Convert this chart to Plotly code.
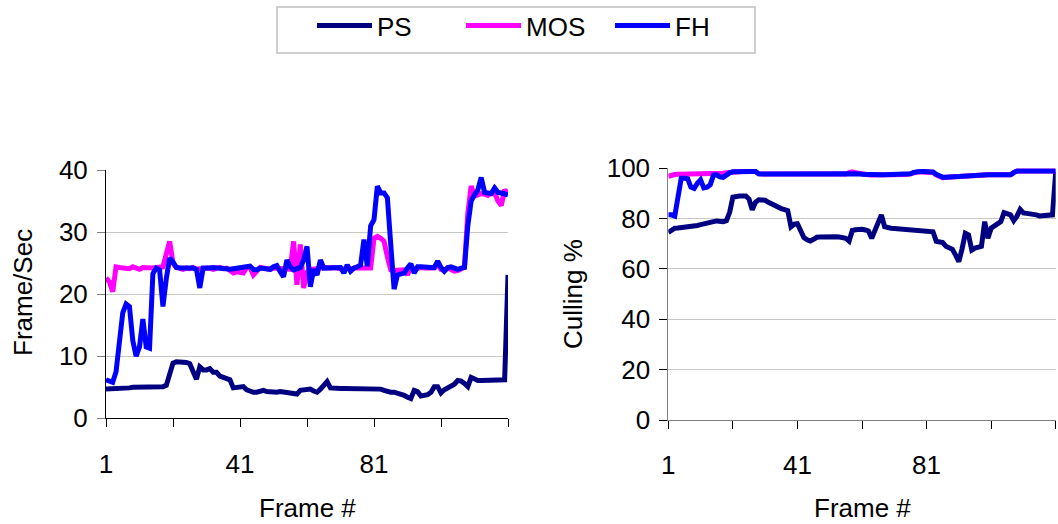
import plotly.graph_objects as go

W, H = 1058, 524

frames = list(range(1, 122))

# Frame rate (frames per second) per technique
ps_fps = [
    4.7, 4.7, 4.7, 4.8, 4.8, 4.8, 4.8, 4.9, 5.0, 5.0,
    5.0, 5.1, 5.1, 5.2, 5.1, 5.1, 5.1, 5.1, 5.3, 7.5,
    8.9, 9.1, 9.1, 9.0, 9.0, 8.8, 7.6, 6.3, 8.3, 7.8,
    7.8, 8.0, 7.4, 7.4, 6.8, 6.6, 6.3, 6.2, 4.9, 4.9,
    5.0, 5.1, 4.6, 4.3, 4.2, 4.2, 4.3, 4.5, 4.3, 4.2,
    4.3, 4.2, 4.3, 4.2, 4.3, 4.2, 4.0, 3.9, 4.5, 4.6,
    4.6, 4.7, 4.4, 4.2, 4.7, 5.2, 5.9, 4.9, 4.8, 4.8,
    4.8, 4.8, 4.8, 4.8, 4.8, 4.8, 4.8, 4.7, 4.8, 4.8,
    4.7, 4.8, 4.7, 4.5, 4.3, 4.2, 4.2, 4.1, 4.0, 3.7,
    3.4, 3.2, 4.5, 4.3, 3.6, 3.7, 3.8, 4.2, 5.1, 5.1,
    4.1, 4.6, 4.9, 5.1, 5.5, 6.1, 6.0, 5.6, 5.1, 6.6,
    6.3, 6.1, 6.1, 6.1, 6.0, 6.0, 6.2, 6.1, 6.2, 6.2, 23.1,
]
mos_fps = [
    22.6, 22.0, 20.4, 24.4, 24.3, 24.2, 24.0, 24.1, 24.4, 24.2,
    24.0, 24.3, 24.2, 24.2, 24.2, 24.3, 24.3, 24.4, 26.5, 28.5,
    25.0, 24.3, 24.2, 24.0, 24.2, 24.1, 24.3, 24.0, 24.1, 24.2,
    24.3, 24.2, 24.0, 24.2, 24.3, 24.1, 24.2, 23.8, 23.4, 23.6,
    23.6, 23.4, 24.3, 24.3, 23.1, 23.8, 24.3, 24.2, 24.0, 24.0,
    24.2, 24.2, 24.2, 24.2, 24.2, 24.0, 28.5, 21.5, 28.0, 21.0,
    23.5, 24.0, 24.0, 24.2, 24.2, 24.3, 24.2, 24.2, 24.3, 24.2,
    24.2, 24.0, 24.3, 24.0, 24.2, 24.2, 24.2, 24.0, 24.2, 24.2,
    29.0, 29.3, 29.0, 28.5, 26.0, 23.9, 23.8, 23.9, 23.9, 23.9,
    23.1, 24.4, 23.9, 24.2, 24.3, 24.2, 24.3, 24.2, 24.2, 24.8,
    24.0, 23.8, 24.2, 24.0, 23.7, 23.8, 24.1, 24.3, 33.0, 37.4,
    35.8, 36.0, 36.2, 36.1, 35.9, 36.3, 36.3, 35.0, 34.3, 36.8, 36.2,
]
fh_fps = [
    6.2, 6.0, 5.8, 7.5, 12.5, 17.0, 18.4, 18.0, 12.5, 10.0,
    11.5, 16.0, 11.5, 11.3, 23.3, 24.2, 23.9, 18.0, 22.5, 25.8,
    25.2, 24.3, 24.2, 24.2, 24.4, 24.2, 24.2, 24.0, 21.0, 24.2,
    24.1, 24.2, 24.3, 24.2, 24.3, 24.2, 24.1, 24.0, 24.1, 24.2,
    24.2, 24.3, 24.4, 24.5, 24.0, 23.9, 24.2, 24.2, 24.0, 24.0,
    24.4, 24.6, 23.6, 22.8, 25.5, 24.4, 23.9, 24.2, 24.3, 25.5,
    27.7, 21.2, 24.0, 23.1, 25.5, 24.2, 24.2, 24.3, 24.2, 24.4,
    24.3, 23.4, 24.7, 23.7, 24.2, 24.4, 24.7, 28.8, 24.5, 31.0,
    32.0, 37.4, 36.3, 36.3, 35.5, 28.0, 20.8, 23.1, 23.2, 23.4,
    24.2, 24.9, 23.4, 24.4, 24.4, 24.3, 24.4, 24.3, 24.3, 25.3,
    24.3, 23.7, 24.3, 24.4, 24.2, 24.0, 24.2, 24.3, 31.0, 35.0,
    36.0, 36.8, 38.8, 36.4, 36.3, 36.2, 37.1, 36.4, 36.3, 36.1, 36.0,
]

# Culling percentage per technique
ps_cull = [
    74.5, 75.5, 76.2, 76.3, 76.4, 76.6, 77.0, 77.1, 77.1, 77.3,
    77.6, 77.8, 78.3, 78.4, 78.8, 79.1, 78.9, 78.8, 79.2, 82.5,
    88.5, 89.0, 89.0, 89.0, 89.0, 87.8, 83.5, 86.5, 87.5, 87.4,
    87.3, 86.5, 85.8, 85.3, 84.8, 84.0, 83.6, 83.2, 76.8, 77.8,
    78.0, 74.8, 72.5, 71.6, 71.1, 71.8, 72.6, 72.7, 72.8, 72.8,
    72.8, 72.8, 72.8, 72.7, 72.5, 72.2, 71.1, 75.3, 75.6, 75.8,
    75.8, 75.5, 75.1, 72.2, 75.5, 78.0, 81.5, 76.8, 76.3, 76.2,
    76.1, 76.0, 76.0, 75.9, 75.8, 75.6, 75.6, 75.5, 75.4, 75.3,
    75.2, 75.0, 74.8, 71.0, 70.8, 70.5, 69.0, 68.5, 67.8, 65.5,
    62.9, 68.0, 74.2, 73.5, 67.5, 68.3, 68.6, 69.0, 78.8, 72.2,
    76.2, 77.0, 77.5, 78.8, 82.4, 82.0, 81.5, 79.2, 81.0, 83.7,
    82.3, 82.1, 82.0, 81.9, 81.5, 81.1, 81.3, 81.5, 81.5, 81.5, 98.5,
]
mos_cull = [
    96.8, 97.3, 97.5, 97.6, 97.6, 97.6, 97.6, 97.6, 97.7, 97.7,
    97.7, 97.7, 97.7, 97.8, 97.8, 97.8, 97.9, 98.0, 98.2, 98.4,
    98.6, 98.7, 98.7, 98.7, 98.7, 98.7, 98.7, 98.7, 97.8, 97.7,
    97.7, 97.7, 97.7, 97.7, 97.7, 97.7, 97.7, 97.7, 97.7, 97.7,
    97.7, 97.7, 97.7, 97.7, 97.7, 97.7, 97.7, 97.7, 97.7, 97.7,
    97.7, 97.7, 97.7, 97.7, 97.7, 97.7, 98.3, 98.6, 98.2, 97.9,
    97.6, 97.5, 97.4, 97.3, 97.4, 97.4, 97.4, 97.3, 97.4, 97.4,
    97.4, 97.3, 97.4, 97.4, 97.5, 97.8, 98.3, 98.5, 98.5, 98.5,
    98.5, 98.5, 98.3, 97.3, 96.6, 96.3, 96.4, 96.5, 96.6, 96.7,
    96.8, 96.9, 96.9, 97.2, 97.4, 97.4, 97.4, 97.4, 97.4, 97.4,
    97.4, 97.4, 97.4, 97.4, 97.4, 97.4, 97.4, 98.3, 98.9, 98.9,
    98.9, 98.9, 98.9, 98.9, 98.9, 98.9, 98.9, 98.9, 98.9, 98.9, 98.9,
]
fh_cull = [
    81.5, 81.5, 81.0, 88.0, 96.0, 96.0, 95.8, 92.5, 92.0, 94.0,
    95.4, 92.2, 92.5, 93.5, 97.3, 97.4, 96.6, 96.4, 97.5, 98.2,
    98.6, 98.7, 98.7, 98.7, 98.7, 98.7, 98.7, 98.7, 97.8, 97.7,
    97.7, 97.7, 97.7, 97.7, 97.7, 97.7, 97.7, 97.7, 97.7, 97.7,
    97.7, 97.7, 97.7, 97.7, 97.7, 97.7, 97.7, 97.7, 97.7, 97.7,
    97.7, 97.7, 97.7, 97.7, 97.7, 97.7, 97.9, 98.1, 98.0, 97.8,
    97.6, 97.5, 97.4, 97.3, 97.4, 97.4, 97.4, 97.4, 97.4, 97.4,
    97.4, 97.4, 97.4, 97.4, 97.5, 97.8, 98.4, 98.7, 98.7, 98.7,
    98.7, 98.7, 98.5, 97.6, 96.8, 96.4, 96.4, 96.5, 96.6, 96.7,
    96.8, 96.9, 97.0, 97.2, 97.4, 97.4, 97.4, 97.4, 97.4, 97.4,
    97.4, 97.4, 97.4, 97.4, 97.4, 97.4, 97.4, 98.3, 98.9, 98.9,
    98.9, 98.9, 98.9, 98.9, 98.9, 98.9, 98.9, 98.9, 98.9, 98.9, 98.9,
]

x_tickvals = [1, 21, 41, 61, 81, 101, 121]
x_ticktext = ["1", "", "41", "", "81", "", ""]
fps_ticks = [0, 10, 20, 30, 40]
cull_ticks = [0, 20, 40, 60, 80, 100]

series_names = ["PS", "MOS", "FH"]
series_colors = ["#000080", "#FF00FF", "#0000FF"]
LINE_W = 5

FONT = "Arial, 'Liberation Sans', sans-serif"
FS = 26


def px_x(p):
    return p / W


def px_y(p):
    return 1 - p / H


fig = go.Figure()

for name, color, ys in zip(series_names, series_colors, [ps_fps, mos_fps, fh_fps]):
    fig.add_trace(go.Scatter(
        x=frames, y=ys, mode="lines", name=name,
        line=dict(color=color, width=LINE_W),
        xaxis="x", yaxis="y", legendgroup=name,
    ))

for name, color, ys in zip(series_names, series_colors, [ps_cull, mos_cull, fh_cull]):
    fig.add_trace(go.Scatter(
        x=frames, y=ys, mode="lines", name=name,
        line=dict(color=color, width=LINE_W),
        xaxis="x2", yaxis="y2", legendgroup=name, showlegend=False,
    ))

common_x = dict(
    range=[1, 121], tickmode="array", tickvals=x_tickvals, ticktext=x_ticktext,
    ticks="outside", ticklen=8, tickwidth=1, showgrid=False, zeroline=False,
    showline=True, linewidth=1, tickfont=dict(size=FS, color="black"),
    ticklabelstandoff=14, fixedrange=True, automargin=False,
)
common_y = dict(
    tickmode="array", ticks="outside", ticklen=8, tickwidth=1,
    showgrid=True, gridcolor="#c8c8c8", gridwidth=1, zeroline=False,
    showline=True, linewidth=1, tickfont=dict(size=FS, color="black"),
    ticklabelstandoff=4, fixedrange=True, automargin=False,
)


def title_note(text, cx, cy, angle=0):
    return dict(text=text, x=px_x(cx), y=px_y(cy), xref="paper", yref="paper",
                xanchor="center", yanchor="middle", textangle=angle,
                showarrow=False, font=dict(size=FS))


fig.update_layout(
    width=W, height=H, autosize=False,
    margin=dict(l=0, r=0, t=0, b=0, pad=0, autoexpand=False),
    paper_bgcolor="white", plot_bgcolor="white",
    font=dict(family=FONT, size=FS, color="black"),
    xaxis=dict(domain=[px_x(106), px_x(508)], anchor="y",
               linecolor="black", tickcolor="black", **common_x),
    yaxis=dict(domain=[px_y(418.3), px_y(170)], anchor="x", range=[0, 40],
               tickvals=fps_ticks, linecolor="black", tickcolor="#808080", **common_y),
    xaxis2=dict(domain=[px_x(668.3), px_x(1055.7)], anchor="y2",
                linecolor="#808080", tickcolor="black", **common_x),
    yaxis2=dict(domain=[px_y(420), px_y(168.3)], anchor="x2", range=[0, 100],
                tickvals=cull_ticks, linecolor="#808080", tickcolor="black", **common_y),
    legend=dict(
        orientation="h", x=px_x(312), xanchor="left", y=px_y(2), yanchor="top",
        borderwidth=0, bgcolor="rgba(0,0,0,0)",
        font=dict(size=FS), itemwidth=55, entrywidth=79, entrywidthmode="pixels",
        itemclick=False, itemdoubleclick=False,
    ),
    shapes=[
        # frame around the legend
        dict(type="rect", xref="paper", yref="paper",
             x0=px_x(277), x1=px_x(755), y0=px_y(53), y1=px_y(7),
             line=dict(color="#c0c0c0", width=1.5), fillcolor="rgba(0,0,0,0)",
             layer="below"),
    ],
    annotations=[
        title_note("Frame/Sec", 23, 293, -90),
        title_note("Culling %", 573, 294, -90),
        title_note("Frame #", 307, 508),
        title_note("Frame #", 862, 508),
    ],
)

fig.write_html(
    "out.html",
    config={"displayModeBar": False},
    post_script="document.body.style.margin='0';document.body.style.overflow='hidden';",
)
